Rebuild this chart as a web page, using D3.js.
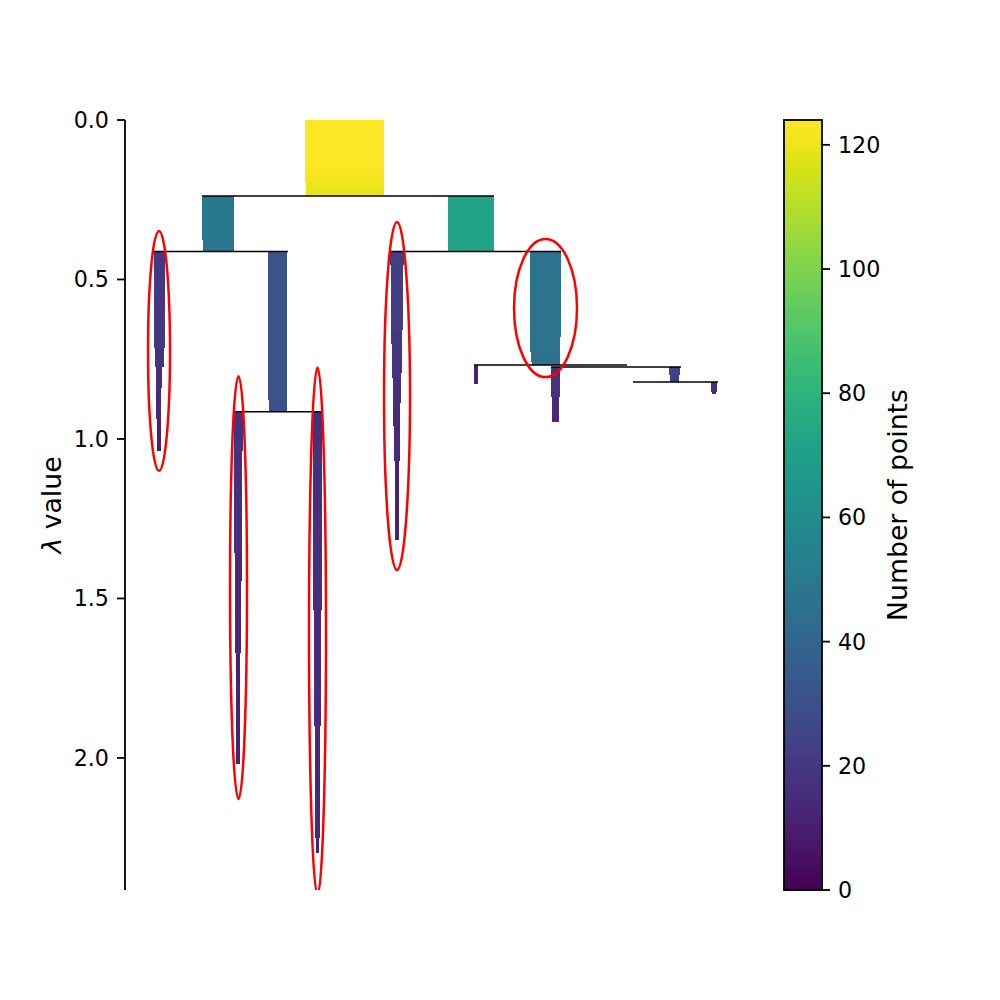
<!DOCTYPE html>
<html>
<head>
<meta charset="UTF-8"/>
<script src="https://d3js.org/d3.v7.min.js"></script>
<style>
  html, body { margin: 0; padding: 0; background: #fff; }
  text { font-family: "DejaVu Sans", sans-serif; fill: #000; }
</style>
</head>
<body>
<svg id="chart" width="1000" height="1000"></svg>
<script>
// each bar: [lambda start, left, right, number of points]
const rootBars = [[0, 180, 259, 124], [0.157, 180, 259, 123], [0.175, 180, 259, 122], [0.197, 181, 259, 121], [0.215, 181, 259, 120]];
const leftBars = [[0.238, 77, 109, 50], [0.376, 78, 109, 49]];
const greenBars = [[0.238, 323, 369, 72]];
const blueBars = [[0.412, 143.3, 162, 31], [0.878, 144.3, 162, 30]];
const clusterA = [[0.412, 29, 40, 20], [0.715, 30, 39, 18], [0.774, 30.7, 37, 16], [0.84, 31.3, 36, 14], [0.937, 32, 36, 12], [0.969, 32.3, 35.7, 11]];
const clusterB = [[0.915, 109, 118.3, 18], [1.038, 109, 117.3, 17], [1.357, 110, 117, 15], [1.445, 110, 116, 14], [1.671, 111, 115, 12]];
const clusterC = [[0.915, 188, 197, 17], [1.536, 189, 196, 15], [1.9, 190, 195, 14], [2.251, 191, 194, 11]];
const clusterD = [[0.412, 265.3, 279, 23], [0.455, 266.3, 278.3, 22], [0.658, 266.3, 277.3, 20], [0.702, 267.3, 277.3, 19], [0.793, 267.3, 276, 18], [0.809, 268.3, 275.7, 16], [0.887, 268.3, 274.7, 15], [0.959, 269.3, 274.7, 14], [1.069, 270, 274, 12]];
const clusterE = [[0.412, 405, 436, 47], [0.68, 405, 435, 47], [0.727, 406, 435, 46], [0.759, 407, 435, 46]];
const smallBars = [
  [0.768, 349, 353, 12], [0.774, 426, 435.3, 18], [0.868, 427.3, 433.7, 14],
  [0.774, 544, 555, 24], [0.798, 545, 554, 22], [0.821, 586, 592, 16], [0.852, 587, 591, 14]
];
// where each run of bars ends
const barEnds = [
  [rootBars, 0.238], [leftBars, 0.412], [greenBars, 0.412], [blueBars, 0.915],
  [clusterA, 1.038], [clusterB, 2.019], [clusterC, 2.298], [clusterD, 1.317], [clusterE, 0.768]
];
const smallEnds = [0.828, 0.868, 0.947, 0.798, 0.821, 0.852, 0.859];

// split lines: [lambda, left, right]
const splits = [
  [0.238, 77, 369], [0.412, 29, 163], [0.412, 265, 436], [0.915, 108, 197],
  [0.768, 349, 502], [0.774, 426, 556], [0.821, 508, 593]
];
// selected cluster ellipses: [centre x, width, lambda top, lambda bottom]
const ellipses = [
  [34, 22, 0.348, 1.1], [113.5, 17, 0.803, 2.129], [192.5, 17, 0.776, 2.43],
  [272, 26, 0.32, 1.411], [420.5, 63, 0.373, 0.806]
];
const yTicks = [0, 0.5, 1, 1.5, 2];
const colorTicks = [0, 20, 40, 60, 80, 100, 120];

const svg = d3.select('#chart');
const top_ = 120, bottom = 890, left = 125;

const x = d3.scaleLinear().domain([0, 640]).range([left, left + 640]);
const y = d3.scaleLinear().domain([0, 2.414]).range([top_, bottom]);
const color = d3.scaleSequential(d3.interpolateViridis).domain([0, 124]);

svg.append('defs').append('clipPath').attr('id', 'plot')
  .append('rect').attr('x', left).attr('y', top_).attr('width', 640).attr('height', bottom - top_);

const plot = svg.append('g');

function drawBars(bars, end) {
  bars.forEach((b, i) => {
    const stop = i < bars.length - 1 ? bars[i + 1][0] : end;
    plot.append('rect')
      .attr('x', x(b[1])).attr('width', x(b[2]) - x(b[1]))
      .attr('y', y(b[0])).attr('height', y(stop) - y(b[0]))
      .attr('fill', color(b[3]))
      .attr('shape-rendering', 'crispEdges');
  });
}
barEnds.forEach(d => drawBars(d[0], d[1]));
smallBars.forEach((b, i) => drawBars([b], smallEnds[i]));

plot.selectAll('line.split').data(splits).enter().append('line')
  .attr('class', 'split')
  .attr('x1', d => x(d[1])).attr('x2', d => x(d[2]))
  .attr('y1', d => y(d[0])).attr('y2', d => y(d[0]))
  .attr('stroke', '#000').attr('stroke-width', 1.5);

plot.append('g').attr('clip-path', 'url(#plot)')
  .selectAll('ellipse').data(ellipses).enter().append('ellipse')
  .attr('cx', d => x(d[0])).attr('rx', d => x(d[1]) / 2 - x(0) / 2)
  .attr('cy', d => y((d[2] + d[3]) / 2)).attr('ry', d => (y(d[3]) - y(d[2])) / 2)
  .attr('fill', 'none').attr('stroke', '#f00').attr('stroke-width', 2.5);

// left axis
const yAxis = svg.append('g').attr('transform', `translate(${left},0)`)
  .call(d3.axisLeft(y).offset(0).tickValues(yTicks).tickFormat(d3.format('.1f')).tickSize(8).tickSizeOuter(0));
yAxis.selectAll('text').attr('font-size', 22.2).style('font-family', '"DejaVu Sans"').attr('x', -16).attr('dy', '0.36em');
yAxis.selectAll('line').attr('stroke-width', 1.8);
yAxis.select('.domain').attr('stroke-width', 1.8);

svg.append('text').attr('transform', 'translate(61,505) rotate(-90)')
  .attr('text-anchor', 'middle').attr('font-size', 26.7)
  .html('<tspan font-style="italic">λ</tspan> value');

// colorbar
const cbLeft = 784, cbRight = 822;
const cy = d3.scaleLinear().domain([0, 124]).range([bottom, top_]);
const steps = d3.range(0, 256);
svg.append('g').attr('shape-rendering', 'crispEdges')
  .selectAll('rect').data(steps).enter().append('rect')
  .attr('x', cbLeft).attr('width', cbRight - cbLeft)
  .attr('y', d => cy((d + 1) * 124 / 256))
  .attr('height', d => cy(d * 124 / 256) - cy((d + 1) * 124 / 256) + 1)
  .attr('fill', d => color((d + 0.5) * 124 / 256));
svg.append('rect').attr('x', cbLeft).attr('y', top_)
  .attr('width', cbRight - cbLeft).attr('height', bottom - top_)
  .attr('fill', 'none').attr('stroke', '#000').attr('stroke-width', 1.8);

const cAxis = svg.append('g').attr('transform', `translate(${cbRight},0)`)
  .call(d3.axisRight(cy).offset(0).tickValues(colorTicks).tickFormat(d3.format('d')).tickSize(8).tickSizeOuter(0));
cAxis.select('.domain').remove();
cAxis.selectAll('line').attr('stroke-width', 1.8);
cAxis.selectAll('text').attr('font-size', 22.2).style('font-family', '"DejaVu Sans"').attr('x', 16).attr('dy', '0.36em');

svg.append('text').attr('transform', 'translate(907,505) rotate(-90)')
  .attr('text-anchor', 'middle').attr('font-size', 26.7).text('Number of points');
</script>
</body>
</html>
